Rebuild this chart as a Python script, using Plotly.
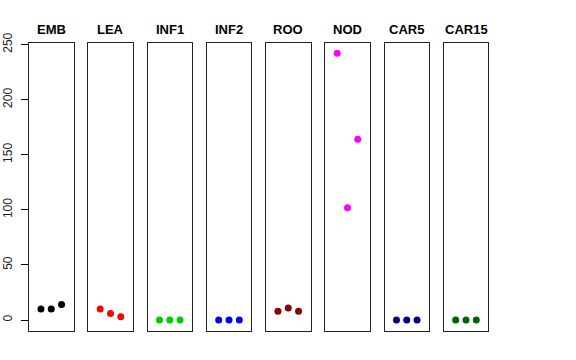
import plotly.graph_objects as go

categories = ["EMB", "LEA", "INF1", "INF2", "ROO", "NOD", "CAR5", "CAR15"]
colors = ["#000000", "#FF0000", "#00CD00", "#0000FF", "#8B0000", "#FF00FF", "#000080", "#006400"]
values = {
    "EMB": [10, 10, 14],
    "LEA": [10, 6, 3],
    "INF1": [0, 0, 0],
    "INF2": [0, 0, 0],
    "ROO": [8, 11, 8],
    "NOD": [242, 102, 164],
    "CAR5": [0, 0, 0],
    "CAR15": [0, 0, 0],
}
reps = [1, 2, 3]
y_ticks = [0, 50, 100, 150, 200, 250]

W, H = 576, 360
fig = go.Figure()
left0, step, pw = 29.0, 59.25, 44.5
ybot, ytop = 330.7, 42.7
ydom = [(H - ybot) / H, (H - ytop) / H]
ymin, ymax = 0, 242
pad = 0.04 * (ymax - ymin)
yr = [ymin - pad, ymax + pad]

layout = dict(width=W, height=H, margin=dict(l=0, r=0, t=0, b=0, autoexpand=False),
              paper_bgcolor="white", plot_bgcolor="white", showlegend=False,
              font=dict(family="Liberation Sans, Arial, sans-serif", color="black"))
annotations = []
for i, cat in enumerate(categories):
    n = "" if i == 0 else str(i + 1)
    x0 = (left0 + i * step) / W
    x1 = (left0 + i * step + pw) / W
    fig.add_trace(go.Scatter(x=reps, y=values[cat], mode="markers",
                             marker=dict(color=colors[i], size=7),
                             xaxis="x" + n, yaxis="y" + n, hoverinfo="skip"))
    layout["xaxis" + n] = dict(domain=[x0, x1], range=[-0.16, 4.16], showgrid=False,
                               zeroline=False, showticklabels=False, ticks="",
                               showline=True, mirror=True, linecolor="#222", linewidth=1,
                               anchor="y" + n, fixedrange=True, automargin=False)
    ya = dict(domain=ydom, range=yr, showgrid=False, zeroline=False,
              showline=True, mirror=True, linecolor="#222", linewidth=1,
              anchor="x" + n, fixedrange=True, automargin=False)
    if i == 0:
        ya.update(tickvals=y_ticks, ticktext=[str(v) for v in y_ticks], ticks="outside",
                  ticklen=7, tickcolor="black", tickangle=-90, ticklabelstandoff=4,
                  tickfont=dict(size=12, color="#222"))
    else:
        ya.update(showticklabels=False, ticks="")
    layout["yaxis" + n] = ya
    annotations.append(dict(text="<b>" + cat + "</b>", x=(x0 + x1) / 2, y=(H - 29.5) / H,
                            xref="paper", yref="paper", showarrow=False,
                            font=dict(size=13, color="black"),
                            xanchor="center", yanchor="middle"))
layout["annotations"] = annotations
fig.update_layout(**layout)
fig.write_html("out.html", config={"displayModeBar": False},
               post_script="document.body.style.margin='0';document.body.style.overflow='hidden';")
